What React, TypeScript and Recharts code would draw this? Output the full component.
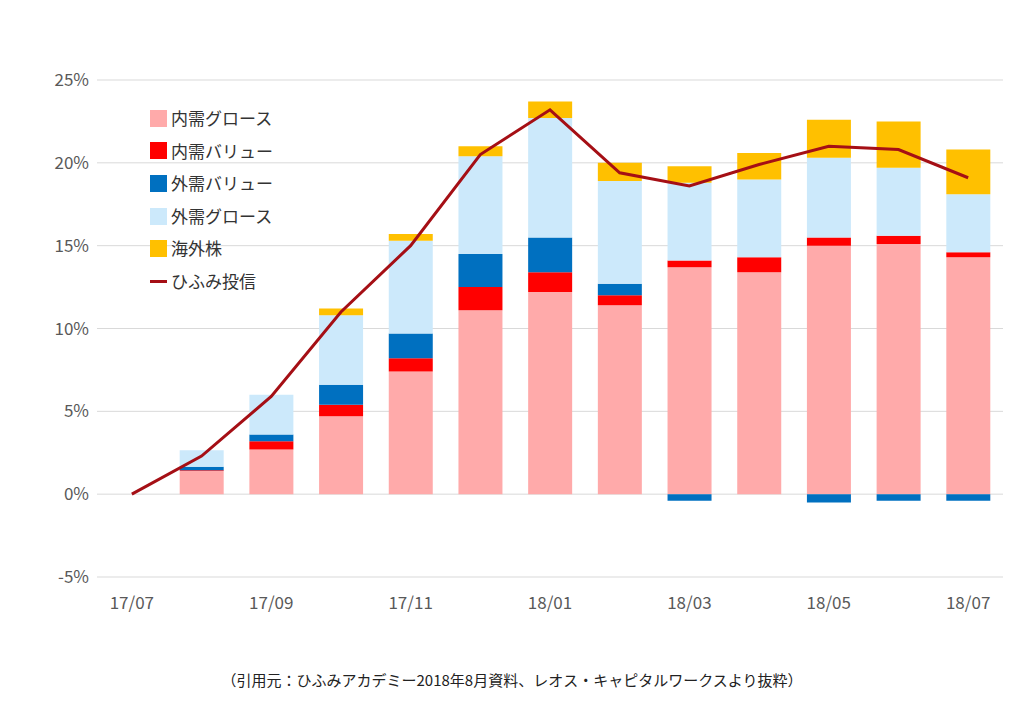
import React from 'react';
import { ComposedChart, Bar, Line, XAxis, YAxis, CartesianGrid } from 'recharts';

const months = ['17/07', '17/08', '17/09', '17/10', '17/11', '17/12', '18/01', '18/02', '18/03', '18/04', '18/05', '18/06', '18/07'];
const domesticGrowth = [0, 1.4, 2.7, 4.7, 7.4, 11.1, 12.2, 11.4, 13.7, 13.4, 15.0, 15.1, 14.3];
const domesticValue = [0, 0.05, 0.5, 0.7, 0.8, 1.4, 1.2, 0.6, 0.4, 0.9, 0.5, 0.5, 0.3];
const foreignValue = [0, 0.2, 0.4, 1.2, 1.5, 2.0, 2.1, 0.7, -0.4, 0, -0.5, -0.4, -0.4];
const foreignGrowth = [0, 1.0, 2.4, 4.2, 5.6, 5.9, 7.2, 6.2, 4.7, 4.7, 4.8, 4.1, 3.5];
const overseas = [0, 0, 0, 0.4, 0.4, 0.6, 1.0, 1.1, 1.0, 1.6, 2.3, 2.8, 2.7];
const hifumi = [0, 2.3, 5.9, 11.0, 15.0, 20.5, 23.2, 19.4, 18.6, 19.9, 21.0, 20.8, 19.1];
const yTicks = [-5, 0, 5, 10, 15, 20, 25];
const xTicks = ['17/07', '17/09', '17/11', '18/01', '18/03', '18/05', '18/07'];

const series = [
  { key: 'dg', name: '内需グロース', color: '#ffaaaa' },
  { key: 'dv', name: '内需バリュー', color: '#ff0000' },
  { key: 'fv', name: '外需バリュー', color: '#0070c0' },
  { key: 'fg', name: '外需グロース', color: '#cce9fb' },
  { key: 'os', name: '海外株', color: '#ffc000' },
];
const lineColor = '#a50f15';

const data = months.map((m, i) => ({
  month: m,
  dg: domesticGrowth[i],
  dv: domesticValue[i],
  fv: foreignValue[i],
  fg: foreignGrowth[i],
  os: overseas[i],
  hf: hifumi[i],
}));

const font = '"Noto Sans CJK JP", "Noto Sans", sans-serif';

export default function App() {
  return (
    <div style={{ width: 1008, fontFamily: font, position: 'relative' }}>
      <ComposedChart width={1008} height={609} data={data} stackOffset="sign"
        margin={{ top: 72, right: 13, left: 9, bottom: 10 }}>
        <CartesianGrid vertical={false} stroke="#d9d9d9" />
        <XAxis dataKey="month" ticks={xTicks} interval={0} axisLine={false} tickLine={false}
          tick={{ fill: '#595959', fontSize: 17, fontFamily: font }} dy={12} />
        <YAxis type="number" domain={[-5, 25]} ticks={yTicks} width={80} axisLine={false} tickLine={false}
          tickFormatter={(v: number) => `${v}%`} tick={{ fill: '#595959', fontSize: 17, fontFamily: font }} />
        {series.map((s) => (
          <Bar key={s.key} dataKey={s.key} name={s.name} stackId="a" fill={s.color} barSize={44} isAnimationActive={false} />
        ))}
        <Line dataKey="hf" name="ひふみ投信" type="linear" stroke={lineColor} strokeWidth={3} dot={false} isAnimationActive={false} />
      </ComposedChart>
      <div style={{ position: 'absolute', left: 142, top: 94, fontSize: 17, color: '#333', lineHeight: '32.6px' }}>
        {series.map((s) => (
          <div key={s.key} style={{ display: 'flex', alignItems: 'center' }}>
            <span style={{ width: 17, height: 17, background: s.color, marginRight: 4, display: 'inline-block' }} />
            {s.name}
          </div>
        ))}
        <div style={{ display: 'flex', alignItems: 'center' }}>
          <span style={{ width: 17, height: 3, background: lineColor, marginRight: 4, display: 'inline-block' }} />
          ひふみ投信
        </div>
      </div>
      <div style={{ textAlign: 'center', fontSize: 15, color: '#222', marginTop: 52 }}>
        （引用元：ひふみアカデミー2018年8月資料、レオス・キャピタルワークスより抜粋）
      </div>
    </div>
  );
}
